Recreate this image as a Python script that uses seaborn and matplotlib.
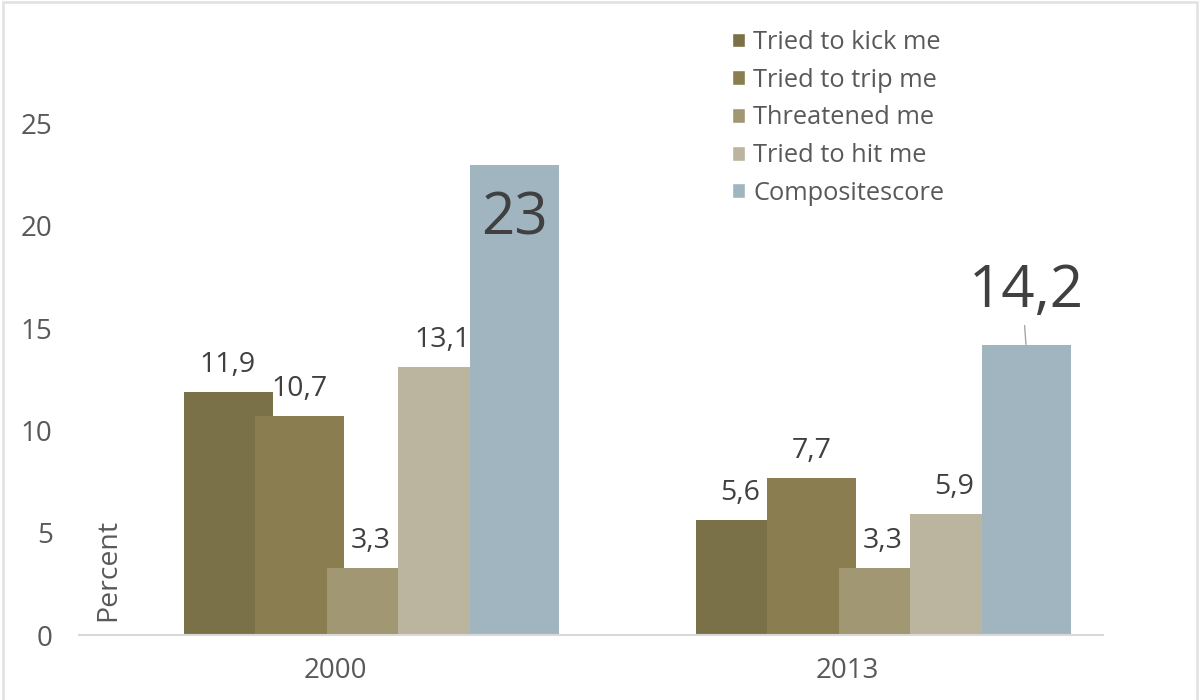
import matplotlib
matplotlib.use("Agg")
import matplotlib.pyplot as plt
from matplotlib.patches import Rectangle
import pandas as pd
import seaborn as sns

# Survey results: share of pupils reporting each experience, by year
years = ["2000", "2013"]
items = ["Tried to kick me", "Tried to trip me", "Threatened me",
         "Tried to hit me", "Compositescore"]
kick = [11.9, 5.6]
trip = [10.7, 7.7]
threatened = [3.3, 3.3]
hit = [13.1, 5.9]
composite = [23, 14.2]
yticks = [0, 5, 10, 15, 20, 25]

palette = ["#7B7148", "#8A7E51", "#A19773", "#BBB49F", "#A1B5C1"]

series = [kick, trip, threatened, hit, composite]
df = pd.DataFrame(
    [(y, item, vals[k]) for item, vals in zip(items, series)
     for k, y in enumerate(years)],
    columns=["year", "item", "value"],
)

sns.set_theme(style="white")
plt.rcParams["font.family"] = ["Open Sans", "DejaVu Sans"]

W, H = 1199, 700
fig = plt.figure(figsize=(W / 100, H / 100), dpi=100)
fig.patch.set_facecolor("white")
ax = fig.add_axes([79 / W, 1 - 635 / H, 1024 / W, 613.5 / H])

sns.barplot(data=df, x="year", y="value", hue="item", order=years,
            hue_order=items, palette=palette, saturation=1, ax=ax,
            width=0.8, legend=True)

# Overlapping bar layout: wide bars, narrower step, group shifted right
bar_w = 89 / 512
step = 71.5 / 512
first = -151.5 / 512 + bar_w / 2

def fmt(v):
    return f"{v:g}".replace(".", ",")

for i, cont in enumerate(ax.containers):
    for j, p in enumerate(cont):
        cx = j + first + i * step
        p.set_x(cx - bar_w / 2)
        p.set_width(bar_w)
        p.set_linewidth(0)
        p.set_edgecolor("none")
        v = p.get_height()
        if i < 4:
            ax.annotate(fmt(v), (cx, v), xytext=(0, 14.4),
                        textcoords="offset points", ha="center",
                        va="baseline", fontsize=20.5, color="#404040")
        elif j == 0:
            ax.annotate(fmt(v), (cx, v), xytext=(0, -50.4),
                        textcoords="offset points", ha="center",
                        va="baseline", fontsize=42, color="#404040")
        else:
            ax.annotate(fmt(v), (cx, v), xytext=(0, 27.4),
                        textcoords="offset points", ha="center",
                        va="baseline", fontsize=42, color="#404040")
            ax.annotate("", xy=(cx, v), xytext=(-1, 13.7),
                        textcoords="offset points",
                        arrowprops=dict(arrowstyle="-", color="#A6A6A6",
                                        lw=1, shrinkA=0, shrinkB=0))

ax.set_xlim(-0.5, 1.5)
ax.set_ylim(0, 30)
ax.set_yticks(yticks)
ax.set_yticklabels([str(t) for t in yticks])
ax.set_xlabel("")
ax.set_ylabel("")
ax.tick_params(axis="y", length=0, pad=19, labelsize=20, labelcolor="#595959")
ax.tick_params(axis="x", length=0, pad=16, labelsize=20, labelcolor="#595959")
for side in ["left", "right", "top"]:
    ax.spines[side].set_visible(False)
ax.spines["bottom"].set_color("#D9D9D9")
ax.spines["bottom"].set_linewidth(1.5)
ax.grid(False)

fig.text(108 / W, 1 - 570 / H, "Percent", rotation=90, ha="center",
         va="center", fontsize=20.5, color="#595959")

handles, labels = ax.get_legend_handles_labels()
if ax.legend_ is not None:
    ax.legend_.remove()
leg = ax.legend(handles, labels, loc="upper left",
                bbox_to_anchor=(732 / W, 1 - 30 / H),
                bbox_transform=fig.transFigure, frameon=False,
                fontsize=18.3, handlelength=0.53, handleheight=0.53,
                handletextpad=0.3, labelspacing=0.5, borderpad=0,
                borderaxespad=0)
for t in leg.get_texts():
    t.set_color("#595959")

# Light frame around the chart area
fig.add_artist(Rectangle((2.5 / W, -0.05), 1194.5 / W, 1.05 - 1.5 / H,
                         transform=fig.transFigure, fill=False,
                         edgecolor="#E3E3E3", lw=2))

fig.savefig("out.png", dpi=100)
